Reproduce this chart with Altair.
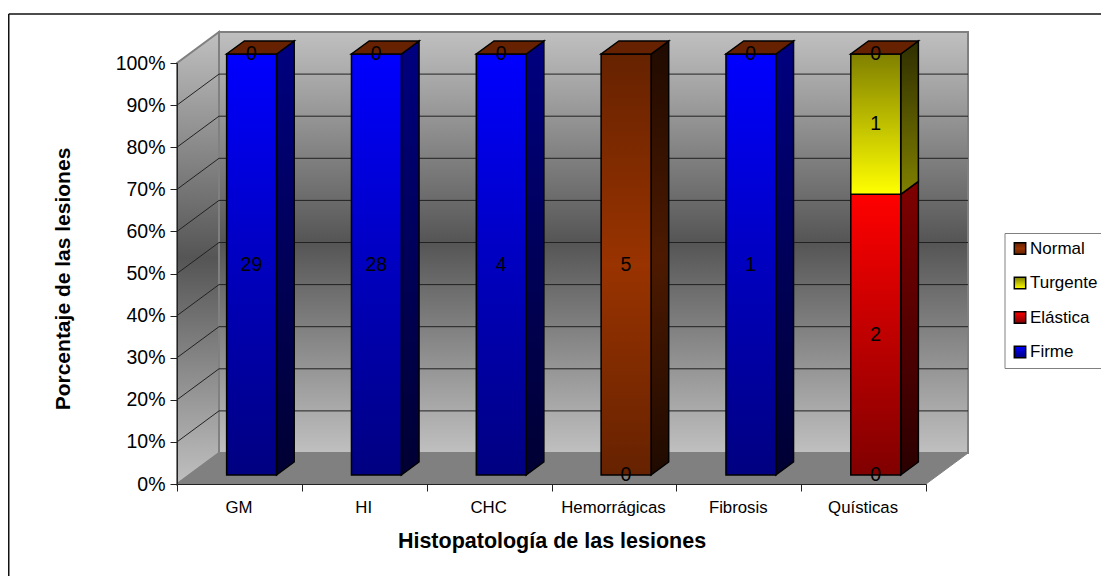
import altair as alt
import pandas as pd

categories = ["GM", "HI", "CHC", "Hemorrágicas", "Fibrosis", "Quísticas"]
firme = [29, 28, 4, 0, 1, 0]
elastica = [None, None, None, None, None, 2]
turgente = [None, None, None, None, None, 1]
normal = [0, 0, 0, 5, 0, 0]
series_names = ["Firme", "Elástica", "Turgente", "Normal"]
series_values = [firme, elastica, turgente, normal]
legend_order = ["Normal", "Turgente", "Elástica", "Firme"]
percent_ticks = list(range(0, 101, 10))

FONT = "Liberation Sans"
PLOT_W, PLOT_H = 749, 421
DX = 42 / (PLOT_W / 6)   # box depth in category units
DY = 31 / (PLOT_H / 100)  # box depth in percent units
BAR_Z0, BAR_Z1 = 0.29, 0.71
BAR_W = 0.4


def grad(*stops):
    n = len(stops) - 1
    return alt.Gradient(
        gradient="linear", x1=0, y1=0, x2=0, y2=1,
        stops=[alt.GradientStop(color=c, offset=i / n) for i, c in enumerate(stops)],
    )


def grad_expr(*stops):
    n = len(stops) - 1
    s = ",".join("{offset:%g,color:'%s'}" % (i / n, c) for i, c in enumerate(stops))
    return {"expr": "{gradient:'linear',x1:0,y1:0,x2:0,y2:1,stops:[%s]}" % s}


front_colors = {
    "Firme": ("#0000ff", "#000080"),
    "Elástica": ("#ff0000", "#800000"),
    "Turgente": ("#808000", "#ffff00"),
    "Normal": ("#662200", "#993300", "#662200"),
}
side_colors = {
    "Firme": ("#000080", "#000033"),
    "Elástica": ("#800000", "#2a0000"),
    "Turgente": ("#2e2e00", "#808000"),
    "Normal": ("#1f0a00", "#4d1a00", "#1f0a00"),
}

rows = []
for i, cat in enumerate(categories):
    vals = [(s, v[i]) for s, v in zip(series_names, series_values) if v[i] is not None]
    total = sum(v for _, v in vals)
    acc = 0
    for s, v in vals:
        lo = acc / total * 100
        acc += v
        hi = acc / total * 100
        rows.append(dict(cat=cat, idx=i, serie=s, value=v, lo=lo, hi=hi))
segs = pd.DataFrame(rows)

Xc = alt.X("x:Q", scale=alt.Scale(domain=[0, 6]), axis=None)
Xh = alt.X("x:Q", scale=alt.Scale(domain=[0, 6]), axis=None, stack=None)
Y = alt.Y(
    "y:Q",
    stack=None,
    scale=alt.Scale(domain=[0, 100]),
    axis=alt.Axis(
        title="Porcentaje de las lesiones", values=percent_ticks, labelExpr="datum.value + '%'",
        labelFont=FONT, labelFontSize=19.5, labelColor="#000", labelPadding=5,
        tickColor="#222", tickSize=7, domainColor="#222", grid=False, zindex=1,
        titleFont=FONT, titleFontSize=21, titleFontWeight="bold", titleColor="#000",
        titlePadding=42, titleY=215.5,
    ),
)
Y2 = alt.Y2("y2:Q")
X2 = alt.X2("x2:Q")

layers = []

# walls
back = pd.DataFrame([dict(x=DX, x2=6 + DX, y=DY, y2=100 + DY)])
layers.append(
    alt.Chart(back).mark_rect(color=grad("#c0c0c0", "#555555", "#c0c0c0"), stroke="#808080", strokeWidth=2)
    .encode(x=Xc, x2=X2, y=Y, y2=Y2)
)
side = pd.DataFrame([dict(x=0, y=0, y2=100), dict(x=DX, y=DY, y2=100 + DY)])
layers.append(
    alt.Chart(side).mark_area(color=grad("#c0c0c0", "#555555", "#c0c0c0"), stroke="#808080", strokeWidth=2)
    .encode(x=Xc, y=Y, y2=Y2)
)
floor = pd.DataFrame([dict(y=0, x=0, x2=6), dict(y=DY, x=DX, x2=6 + DX)])
layers.append(
    alt.Chart(floor).mark_area(color="#808080", orient="horizontal", stroke="#808080", strokeWidth=1)
    .encode(y=Y, x=Xh, x2=X2)
)

# gridlines on both walls
grid_rows = pd.DataFrame([dict(x=DX, x2=6 + DX, y=p + DY, y2=p + DY) for p in percent_ticks[1:-1]])
layers.append(
    alt.Chart(grid_rows).mark_rule(color="#222222", strokeWidth=1).encode(x=Xc, x2=X2, y=Y, y2=Y2)
)
grid_side = pd.DataFrame([dict(x=0, x2=DX, y=p, y2=p + DY) for p in percent_ticks[1:-1]])
layers.append(
    alt.Chart(grid_side).mark_rule(color="#222222", strokeWidth=1).encode(x=Xc, x2=X2, y=Y, y2=Y2)
)

# bars
segs["xl"] = segs.idx + 0.5 - BAR_W / 2 + BAR_Z0 * DX
segs["xr"] = segs.xl + BAR_W
dx_bar = (BAR_Z1 - BAR_Z0) * DX
dy_bar = (BAR_Z1 - BAR_Z0) * DY
dy0 = BAR_Z0 * DY

for s in series_names:
    d = segs[(segs.serie == s) & (segs.value > 0)]
    side_rows = []
    for _, r in d.iterrows():
        side_rows.append(dict(id=r["cat"], x=r["xr"], y=r["lo"] + dy0, y2=r["hi"] + dy0))
        side_rows.append(dict(id=r["cat"], x=r["xr"] + dx_bar, y=r["lo"] + dy0 + dy_bar, y2=r["hi"] + dy0 + dy_bar))
    layers.append(
        alt.Chart(pd.DataFrame(side_rows))
        .mark_area(color=grad(*side_colors[s]), stroke="#000", strokeWidth=1.5)
        .encode(x=Xc, y=Y, y2=Y2, detail="id:N")
    )

front = segs[segs.value > 0].assign(
    x=lambda d: d.xl, x2=lambda d: d.xr, y=lambda d: d.lo + dy0, y2=lambda d: d.hi + dy0
)
layers.append(
    alt.Chart(front).mark_rect(stroke="#000", strokeWidth=1.5).encode(
        x=Xc, x2=X2, y=Y, y2=Y2,
        color=alt.Color(
            "serie:N",
            scale=alt.Scale(domain=legend_order, range=[grad_expr(*front_colors[s]) for s in legend_order]),
            legend=alt.Legend(
                title=None, orient="none", legendX=827.5, legendY=170, symbolType="square",
                symbolSize=130, symbolStrokeColor="#000", symbolStrokeWidth=1.5,
                labelFont=FONT, labelFontSize=17, labelColor="#000", labelOffset=1.5,
                rowPadding=15.5, padding=7, strokeColor="#808080", fillColor="#fff",
                labelLimit=200,
            ),
        ),
    )
)

top_rows = []
for i in range(len(categories)):
    xl = i + 0.5 - BAR_W / 2 + BAR_Z0 * DX
    top_rows.append(dict(id=i, y=100 + dy0, x=xl, x2=xl + BAR_W))
    top_rows.append(dict(id=i, y=100 + dy0 + dy_bar, x=xl + dx_bar, x2=xl + BAR_W + dx_bar))
layers.append(
    alt.Chart(pd.DataFrame(top_rows))
    .mark_area(color="#662200", orient="horizontal", stroke="#000", strokeWidth=1.5)
    .encode(y=Y, x=Xh, x2=X2, detail="id:N")
)

# data labels + category axis
labels = segs.assign(y=lambda d: (d.lo + d.hi) / 2, txt=lambda d: d.value.astype(str))
layers.append(
    alt.Chart(labels).mark_text(font=FONT, fontSize=19.5, color="#000", dx=12, dy=-9, baseline="middle").encode(
        x=alt.X(
            "cat:N",
            scale=alt.Scale(type="band", domain=categories, paddingInner=0, paddingOuter=0),
            axis=alt.Axis(
                title="Histopatología de las lesiones", labelAngle=0, tickBand="extent",
                labelFont=FONT, labelFontSize=16.8, labelColor="#000", labelPadding=8, labelOffset=-1,
                tickColor="#222", tickSize=7, domainColor="#222", zindex=1,
                titleFont=FONT, titleFontSize=21.5, titleFontWeight="bold", titleColor="#000",
                titlePadding=15,
            ),
        ),
        y=Y,
        text="txt:N",
    )
)

# outer frame (runs off the right and bottom edges of the picture)
frame_kw = dict(color="#111", strokeWidth=1.5)
f = pd.DataFrame([dict(k=1)])
layers.append(alt.Chart(f).mark_rule(**frame_kw).encode(x=alt.value(-168.25), y=alt.value(-49), y2=alt.value(520)))
layers.append(alt.Chart(f).mark_rule(**frame_kw).encode(x=alt.value(-168.25), x2=alt.value(940), y=alt.value(-49)))

chart = (
    alt.layer(*layers)
    .resolve_scale(x="independent")
    .properties(
        width=PLOT_W, height=PLOT_H,
        autosize=alt.AutoSizeParams(type="none"),
        padding={"left": 169, "top": 55, "right": 175, "bottom": 92},
    )
    .configure_view(stroke=None)
)
chart.save("out.html", embed_options={"renderer": "svg", "actions": False})
